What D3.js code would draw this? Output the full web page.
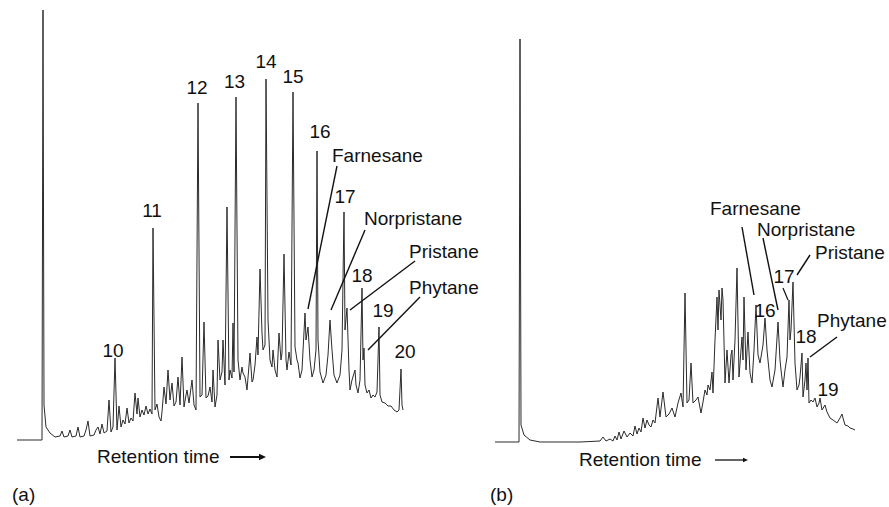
<!DOCTYPE html>
<html><head><meta charset="utf-8">
<script src="https://cdn.jsdelivr.net/npm/d3@7"></script>
<style>
body{margin:0;background:#fff}
text{font-family:"Liberation Sans",Arial,Helvetica,sans-serif;fill:#111}
</style>
</head><body>
<svg id="c" width="889" height="507"></svg>
<script>
// ---------- DATA (retention time in arbitrary min, detector signal in mV) ----------
const traceA = [[0,0],[2.5,0],[2.6,215],[2.7,17.5],[2.9,6.5],[3.3,3.5],[3.8,1.5],[4.3,2],[4.5,4.5],[4.7,1.5],[5.1,2],[5.3,5],[5.5,1.5],[5.9,2],[6.1,6.5],[6.3,1.5],[6.7,2],[6.9,5],[7.1,9.5],[7.3,2],[7.7,2.5],[7.9,5],[8.1,6.5],[8.3,3],[8.5,8],[8.7,3.5],[9.0,4.5],[9.2,20],[9.4,4],[9.6,6.5],[9.8,41],[10.0,5],[10.2,17],[10.4,6.5],[10.6,10],[10.8,8],[11.0,16],[11.2,8.5],[11.4,11],[11.6,9.5],[11.8,23.5],[12.0,13],[12.1,21],[12.3,11.5],[12.5,15],[12.7,12.5],[12.9,17],[13.1,13],[13.3,15.5],[13.5,13],[13.6,106],[13.8,15],[14.0,18],[14.2,11.5],[14.4,9.5],[14.5,14],[14.7,26.5],[14.9,18],[15.1,35],[15.3,20],[15.5,28.5],[15.7,17],[15.9,19],[16.1,31.5],[16.3,17.5],[16.5,41.5],[16.7,16.5],[16.9,22.5],[17.0,25],[17.2,18.5],[17.5,30],[17.7,17.5],[17.9,15],[18.1,168.5],[18.3,21.5],[18.5,22.5],[18.7,59],[18.9,21],[19.1,22],[19.3,26.5],[19.5,19],[19.6,35],[19.8,16.5],[20.0,22.5],[20.1,50],[20.3,30],[20.5,34],[20.6,50],[20.8,27.5],[21.0,116.5],[21.2,30],[21.3,35],[21.5,31],[21.6,58.5],[21.7,34],[21.9,171.5],[22.1,40],[22.3,30],[22.5,36.5],[22.6,33.5],[22.8,31.5],[23.0,25],[23.3,43.5],[23.5,29],[23.6,30],[23.8,37.5],[24.0,51.5],[24.1,42.5],[24.3,85.5],[24.5,53.5],[24.6,45],[24.8,47.5],[24.9,180.5],[25.1,60],[25.3,40],[25.5,36.5],[25.6,45],[25.8,35],[26.0,31.5],[26.2,53.5],[26.4,40],[26.5,43.5],[26.7,93],[26.9,40],[27.0,35],[27.2,44],[27.4,37.5],[27.6,174],[27.8,46.5],[28.0,40],[28.1,38.5],[28.3,31],[28.5,35],[28.8,63.5],[28.9,50],[29.1,56.5],[29.3,40],[29.5,31.5],[29.7,35],[29.9,45],[30.0,144.5],[30.1,50],[30.3,34],[30.6,28.5],[30.9,32.5],[31.1,42.5],[31.3,60],[31.5,45],[31.7,32.5],[32.0,28.5],[32.3,32.5],[32.5,45],[32.7,114],[32.8,55],[33.0,66],[33.2,35],[33.3,25],[33.5,30],[33.8,35],[33.9,27.5],[34.1,23.5],[34.3,30],[34.5,76],[34.6,40],[34.7,46],[34.8,27.5],[35.0,23.5],[35.2,25],[35.4,21],[35.6,22.5],[35.8,21.5],[36.0,24],[36.2,56.5],[36.3,22.5],[36.5,19],[36.8,18.5],[37.1,17],[37.4,17],[37.7,15],[38.0,14],[38.2,15],[38.4,35.5],[38.5,17.5],[38.6,15]];

const traceB = [[0,0],[2.4,0],[2.5,201.5],[2.6,8.5],[2.9,3.5],[3.5,1],[4.5,0],[6.5,0],[8.5,0],[10.5,0.5],[10.8,2.5],[11.1,0.5],[11.5,1.5],[11.8,0.5],[12.0,3],[12.2,1],[12.4,5],[12.6,1.5],[12.9,5.5],[13.2,2.5],[13.5,4.5],[13.8,3],[14.0,8],[14.2,4],[14.4,7],[14.6,5],[14.8,12],[15.0,7],[15.2,11],[15.4,8.5],[15.6,7.5],[15.8,11],[16.0,9.5],[16.3,22],[16.5,12.5],[16.8,25],[17.1,12.5],[17.4,14],[17.7,17],[18.0,12.5],[18.3,19.5],[18.6,24.5],[18.8,17.5],[19.0,74.5],[19.2,19.5],[19.4,21],[19.6,39.5],[19.8,19.5],[20.1,21],[20.3,22.5],[20.6,14.5],[20.8,20],[21.0,26],[21.2,23.5],[21.3,28.5],[21.5,26],[21.7,35],[21.8,24.5],[22.0,51],[22.2,72.5],[22.3,56],[22.4,76],[22.6,61],[22.7,77],[22.8,71],[23.0,29.5],[23.2,46],[23.4,29.5],[23.6,43.5],[23.7,46],[23.8,31],[24.0,51],[24.2,87],[24.4,32.5],[24.6,46],[24.7,52.5],[24.8,41],[24.9,72.5],[25.1,36],[25.3,55],[25.5,34.5],[25.7,29.5],[25.9,46],[26.1,68.5],[26.3,43.5],[26.5,39.5],[26.8,48.5],[27.0,62],[27.2,46],[27.3,41],[27.5,31],[27.7,27.5],[28.0,36],[28.3,60],[28.5,41],[28.6,36],[28.8,27.5],[29.0,36],[29.2,42.5],[29.4,71],[29.5,51],[29.6,56],[29.8,80],[30.0,39.5],[30.2,26],[30.4,28.5],[30.5,32.5],[30.7,44.5],[30.8,22.5],[31.0,31],[31.1,39.5],[31.2,26],[31.3,42],[31.4,19.5],[31.6,21],[31.8,20],[32.0,22],[32.2,17.5],[32.4,19.5],[32.5,22],[32.7,16],[33.0,18.5],[33.2,15],[33.5,12],[33.8,11],[34.2,9.5],[34.5,12],[34.7,14],[34.8,12],[35.0,8.5],[35.3,8],[35.5,7],[35.8,6.5],[36.0,6]];

// n-alkane peak labels (carbon number) and their peaks [time, signal]
const alkaneLabelsA = ["10","11","12","13","14","15","16","17","18","19","20"];
const alkanePeaksA  = [[9.8,41],[13.6,106],[18.1,168.5],[21.9,171.5],[24.9,180.5],[27.6,174],[30.0,144.5],[32.7,114],[34.5,76],[36.2,56.5],[38.4,35.5]];
const alkaneLabelsB = ["16","17","18","19"];
const alkanePeaksB  = [[27.0,62],[29.4,71],[30.7,44.5],[33.0,18.5]];

// isoprenoid compounds and their peaks [time, signal]
const compounds = ["Farnesane","Norpristane","Pristane","Phytane"];
const compoundPeaksA = [[28.8,63.5],[31.3,60],[33.0,66],[34.7,46]];
const compoundPeaksB = [[26.1,68.5],[28.3,60],[29.8,80],[31.3,42]];

const axisTitle = "Retention time";
const panelTags = ["(a)","(b)"];

// ---------- LAYOUT ----------
const svg = d3.select("#c");
const FS = 19;
const panels = [
  {trace: traceA, xr:[17,417], yr:[440,10],
   labels: alkaneLabelsA, peaks: alkanePeaksA,
   labOff: [[-2,1],[-1,11],[-1,9],[-1.5,9],[0,11],[0,9],[3,13],[1,9],[0,6],[4,10],[4,11]],
   cpeaks: compoundPeaksA,
   // [end dx,dy], [start dx,dy], [text dx,dy] relative to target peak top
   ann: [[[3,-4],[32,-147],[27,-151]],
         [[1,-10],[35,-90],[34,-95]],
         [[3,2],[68,-47],[62,-50]],
         [[4,2],[56,-51],[45,-54]]],
   pointers: [],
   title:{x:97,y:463,ax1:230,ax2:266,ay:457,w:2,head:7}, tag:{x:12,y:501}},
  {trace: traceB, xr:[495,895], yr:[442,12],
   labels: alkaneLabelsB, peaks: alkanePeaksB,
   labOff: [[0,1],[-5,17],[4,10],[3,9]],
   cpeaks: compoundPeaksB,
   ann: [[[-2,-10],[-14,-78],[-46,-90]],
         [[0,-12],[-15,-84],[-21,-86]],
         [[4,-7],[17,-27],[22,-23]],
         [[2,-1],[29,-21],[9,-31]]],
   pointers: [[1,[-6,-12],[-1,0]]],
   title:{x:579,y:466,ax1:715,ax2:748,ay:460,w:1.3,head:5}, tag:{x:490,y:501}}
];

panels.forEach((p, pi) => {
  const x = d3.scaleLinear().domain([0,40]).range(p.xr);
  const y = d3.scaleLinear().domain([0,215]).range(p.yr);
  const g = svg.append("g");
  const line = d3.line().x(d => x(d[0])).y(d => y(d[1]));
  g.append("path").attr("d", line(p.trace))
    .attr("fill","none").attr("stroke","#2b2b2b").attr("stroke-width",1)
    .attr("stroke-linejoin","round");

  // carbon-number labels
  p.labels.forEach((lab, i) => {
    const pk = p.peaks[i], o = p.labOff[i];
    g.append("text").attr("x", x(pk[0]) + o[0]).attr("y", y(pk[1]) - o[1])
      .attr("text-anchor","middle").attr("font-size",FS).text(lab);
  });
  // pointer ticks for labels
  p.pointers.forEach(pt => {
    const pk = p.peaks[pt[0]];
    g.append("line").attr("x1", x(pk[0]) + pt[1][0]).attr("y1", y(pk[1]) + pt[1][1])
      .attr("x2", x(pk[0]) + pt[2][0]).attr("y2", y(pk[1]) + pt[2][1])
      .attr("stroke","#111").attr("stroke-width",1.2);
  });
  // compound annotations
  compounds.forEach((name, i) => {
    const pk = p.cpeaks[i], a = p.ann[i];
    const px = x(pk[0]), py = y(pk[1]);
    g.append("line").attr("x1", px + a[1][0]).attr("y1", py + a[1][1])
      .attr("x2", px + a[0][0]).attr("y2", py + a[0][1])
      .attr("stroke","#111").attr("stroke-width",1.4);
    g.append("text").attr("x", px + a[2][0]).attr("y", py + a[2][1])
      .attr("font-size",FS).text(name);
  });
  // axis title with arrow
  const t = p.title;
  g.append("text").attr("x", t.x).attr("y", t.y).attr("font-size",FS).text(axisTitle);
  g.append("line").attr("x1", t.ax1).attr("y1", t.ay).attr("x2", t.ax2 - t.head + 1).attr("y2", t.ay)
    .attr("stroke","#111").attr("stroke-width", t.w);
  g.append("path")
    .attr("d", `M${t.ax2},${t.ay} L${t.ax2 - t.head},${t.ay - t.head*0.45} L${t.ax2 - t.head},${t.ay + t.head*0.45} Z`)
    .attr("fill","#111");
  g.append("text").attr("x", p.tag.x).attr("y", p.tag.y).attr("font-size",FS).text(panelTags[pi]);
});
</script>
</body></html>
